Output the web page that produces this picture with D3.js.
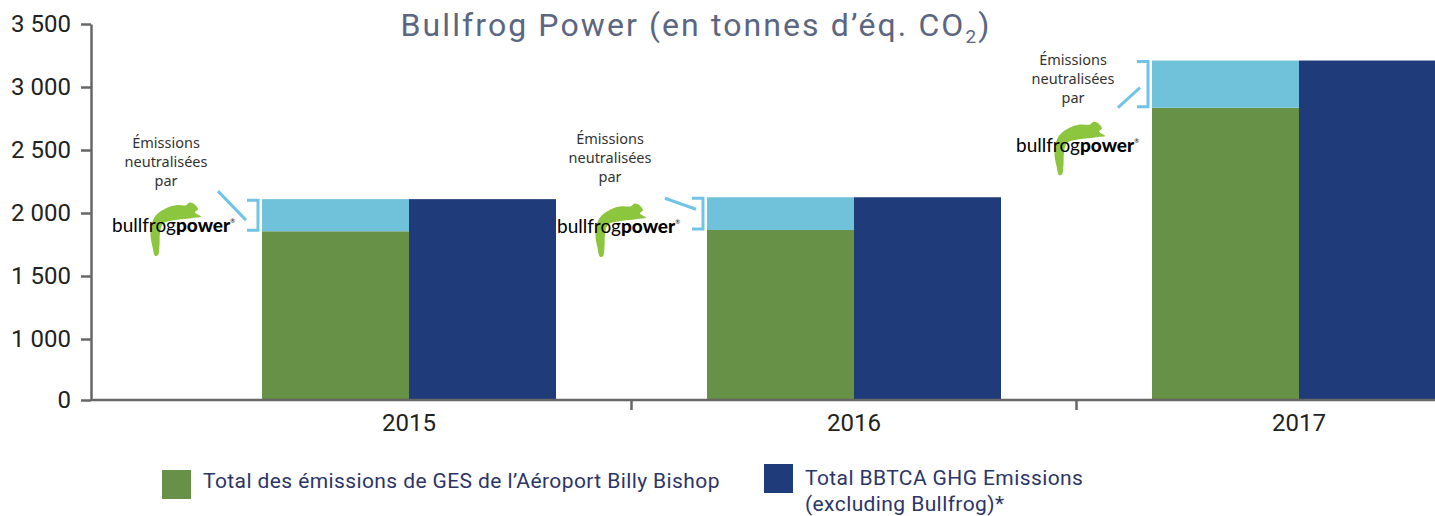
<!DOCTYPE html>
<html>
<head>
<meta charset="utf-8">
<script src="https://cdn.jsdelivr.net/npm/d3@7"></script>
<style>
  body { margin: 0; background: #fff; }
  svg { display: block; }
</style>
</head>
<body>
<script>
// data
const years = ["2015", "2016", "2017"];
const airportTotal = [1855, 1865, 2835];   // green part
const neutralized = [255, 260, 375];       // light blue part (Bullfrog)
const bbtcaTotal = [2110, 2125, 3210];     // dark blue bar
const yTicks = [0, 1000, 1500, 2000, 2500, 3000, 3500];
const legendLabels = [
  ["Total des émissions de GES de l’Aéroport Billy Bishop"],
  ["Total BBTCA GHG Emissions", "(excluding Bullfrog)*"]
];
const noteLines = ["Émissions", "neutralisées", "par"];

const width = 1435, height = 516;
const green = "#679146", light = "#70c2da", navy = "#1f3b79", axisGrey = "#666";

// placement of the "Émissions neutralisées par" notes, relative to each green bar
const noteLayout = [
  {tx: -96, ty: -51, lx: -150, ly: 33, d: [[-44, -8], [-16, 21]]},
  {tx: -97, ty: -53, lx: -150, ly: 36, d: [[-42, 1], [-11, 12]]},
  {tx: -79, ty: 4,   lx: -136, ly: 91, d: [[-34, 47], [-12, 27]]}
];

const svg = d3.select("body").append("svg")
  .attr("width", width)
  .attr("height", height);

// axis is broken below 1000, so the scale is piecewise
const y = d3.scaleLinear().domain([0, 1000, 3500]).range([400, 339, 24]);

const x = d3.scaleBand().domain(years)
  .range([186.5, 1521.5])
  .paddingInner(0.3393)
  .paddingOuter(0.3393 / 2);
const xs = d3.scaleBand().domain(["airport", "bbtca"]).range([0, x.bandwidth()]);

const fr = d3.formatLocale({decimal: ",", thousands: " ", grouping: [3], currency: ["", ""]});
const fmt = fr.format(",d");

// title (only its second line is in view)
const title = svg.append("text")
  .attr("x", 696).attr("y", 36)
  .attr("text-anchor", "middle")
  .attr("font-family", "Roboto")
  .attr("font-size", 32)
  .attr("letter-spacing", 2.1)
  .attr("fill", "#5b6682");
title.append("tspan").text("Bullfrog Power (en tonnes d’éq. CO");
title.append("tspan").attr("font-size", 19).attr("dy", 7).text("2");
title.append("tspan").attr("dy", -7).text(")");

// bars
const groups = svg.append("g").selectAll("g")
  .data(years.map((yr, i) => ({yr, i})))
  .join("g")
  .attr("transform", d => `translate(${x(d.yr)},0)`);

groups.append("rect")
  .attr("x", xs("airport")).attr("width", xs.bandwidth())
  .attr("y", d => y(airportTotal[d.i]))
  .attr("height", d => y(0) - y(airportTotal[d.i]))
  .attr("fill", green);

groups.append("rect")
  .attr("x", xs("airport")).attr("width", xs.bandwidth())
  .attr("y", d => y(airportTotal[d.i] + neutralized[d.i]))
  .attr("height", d => y(airportTotal[d.i]) - y(airportTotal[d.i] + neutralized[d.i]))
  .attr("fill", light);

groups.append("rect")
  .attr("x", xs("bbtca")).attr("width", xs.bandwidth())
  .attr("y", d => y(bbtcaTotal[d.i]))
  .attr("height", d => y(0) - y(bbtcaTotal[d.i]))
  .attr("fill", navy);

// y axis
const yAxis = svg.append("g")
  .attr("transform", "translate(91,0)")
  .call(d3.axisLeft(y).tickValues(yTicks).tickFormat(fmt).tickSize(10).tickSizeOuter(0).tickPadding(10));
yAxis.select(".domain").attr("stroke", axisGrey).attr("stroke-width", 2.5);
yAxis.selectAll(".tick line").attr("stroke", axisGrey).attr("stroke-width", 2.5);
yAxis.selectAll(".tick text")
  .attr("font-family", "Roboto").attr("font-size", 24).attr("fill", "#222");

// x axis: line, separators between years, labels under each pair
svg.append("line")
  .attr("x1", 91).attr("x2", width)
  .attr("y1", y(0)).attr("y2", y(0))
  .attr("stroke", axisGrey).attr("stroke-width", 2.5);

const gap = (x.step() - x.bandwidth()) / 2;
svg.append("g").selectAll("line")
  .data(years.slice(1))
  .join("line")
  .attr("x1", d => x(d) - gap).attr("x2", d => x(d) - gap)
  .attr("y1", y(0)).attr("y2", y(0) + 10)
  .attr("stroke", axisGrey).attr("stroke-width", 2.5);

const xAxis = svg.append("g")
  .attr("transform", `translate(0,${y(0)})`)
  .call(d3.axisBottom(x).tickSize(0).tickPadding(14));
xAxis.select(".domain").remove();
xAxis.selectAll(".tick text")
  .attr("font-family", "Roboto").attr("font-size", 24).attr("fill", "#222");

// Bullfrog notes, brackets and logos
const frogPts = [[44,-17],[54,-24],[64,-27],[74,-27],[77,-29.5],[81,-29],[86,-23],[83,-20],[89,-15.5],
                 [82,-14.5],[75.5,-13.5],[62,-12],[51,-8.5],[48,1],[47.5,13],[46,23],[43,23.5],
                 [40.5,14.5],[38.5,3],[40,-9]];
const frogLine = d3.line().curve(d3.curveCatmullRomClosed.alpha(0.5));

years.forEach((yr, i) => {
  const L = noteLayout[i];
  const xl = x(yr) + xs("airport");
  const yt = y(airportTotal[i] + neutralized[i]);
  const yg = y(airportTotal[i]);
  const g = svg.append("g");

  const note = g.append("text")
    .attr("text-anchor", "middle")
    .attr("font-family", "Noto Sans").attr("font-size", 14.5).attr("fill", "#333");
  noteLines.forEach((t, k) => {
    note.append("tspan").attr("x", xl + L.tx).attr("y", yt + L.ty + k * 19).text(t);
  });

  g.append("path")
    .attr("d", `M${xl - 15},${yt + 1}H${xl - 4}V${yg - 1}H${xl - 15}`)
    .attr("fill", "none").attr("stroke", "#72c4e6").attr("stroke-width", 3);
  g.append("line")
    .attr("x1", xl + L.d[0][0]).attr("y1", yt + L.d[0][1])
    .attr("x2", xl + L.d[1][0]).attr("y2", yt + L.d[1][1])
    .attr("stroke", "#72c4e6").attr("stroke-width", 3);

  const logo = g.append("g").attr("transform", `translate(${xl + L.lx},${yt + L.ly})`);
  logo.append("path").attr("d", frogLine(frogPts)).attr("fill", "#8cc63f");
  const lt = logo.append("text")
    .attr("font-family", "Lato").attr("font-size", 19).attr("fill", "#000");
  lt.append("tspan").attr("font-weight", 400).text("bullfrog");
  lt.append("tspan").attr("font-weight", 900).text("power");
  lt.append("tspan").attr("font-size", 6).attr("dy", -9).text("®");
});

// legend
const legendPos = [{x: 162, y: 470, tx: 203, ty: 488}, {x: 764, y: 464, tx: 805, ty: 485}];
const legendColors = [green, navy];
legendLabels.forEach((lines, i) => {
  const p = legendPos[i];
  svg.append("rect").attr("x", p.x).attr("y", p.y).attr("width", 29).attr("height", 29)
    .attr("fill", legendColors[i]);
  const t = svg.append("text")
    .attr("font-family", "Roboto").attr("font-size", 21).attr("letter-spacing", 0.4)
    .attr("fill", "#2c3568");
  lines.forEach((s, k) => t.append("tspan").attr("x", p.tx).attr("y", p.ty + k * 26).text(s));
});
</script>
</body>
</html>
